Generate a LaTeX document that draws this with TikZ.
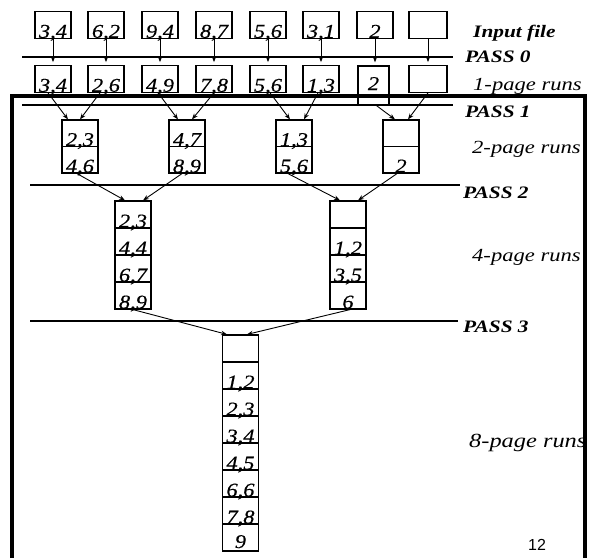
\documentclass[tikz,border=0pt]{standalone}
\usepackage{fontspec}
\setmainfont{Liberation Serif}
\newfontfamily\numfam{Liberation Serif}[FakeStretch=1.15,FakeBold=0.5]
\newfontfamily\labfam{Liberation Serif}[FakeStretch=1.22]
\newfontfamily\sansfam{Liberation Sans}
\usetikzlibrary{arrows.meta,calc}
\tikzset{
  cellA/.style={draw, line width=1.2pt, minimum width=36pt, inner sep=0pt,
    text height=26pt, text depth=0.5pt, font=\numfam\itshape\fontsize{19.5}{19.5}\selectfont},
  cellB/.style={cellA, text height=26.5pt},
  arr/.style={-{Stealth[length=6pt,width=4.5pt]}, line width=0.9pt},
  passline/.style={line width=2.2pt},
  frame/.style={line width=3.2pt},
  passlab/.style={anchor=base west, inner sep=0pt, font=\labfam\bfseries\itshape\fontsize{17.5}{17.5}\selectfont},
  runlab/.style={anchor=base west, inner sep=0pt, font=\labfam\itshape\fontsize{18.5}{18.5}\selectfont},
}
\begin{document}
\begin{tikzpicture}[x=1pt,y=-1pt]
\useasboundingbox (0,0) rectangle (595,558);
% input file row
\node[cellA] (a1) at (53,25) {3,4};
\node[cellA] (a2) at (106,25) {6,2};
\node[cellA] (a3) at (160,25) {9,4};
\node[cellA] (a4) at (214,25) {8,7};
\node[cellA] (a5) at (268,25) {5,6};
\node[cellA] (a6) at (321,25) {3,1};
\node[cellA] (a7) at (375,25) {2};
\node[cellA, minimum width=38pt] (a8) at (428,25) {};
% 1-page runs
\node[cellA] (b1) at (53,79) {3,4};
\node[cellA] (b2) at (106,79) {2,6};
\node[cellA] (b3) at (160,79) {4,9};
\node[cellA] (b4) at (214,79) {7,8};
\node[cellA] (b5) at (268,79) {5,6};
\node[cellA] (b6) at (321,79) {1,3};
\node[cellA, minimum width=31pt, text height=24pt, text depth=15pt] (b7) at (373.5,85.5) {2};
\node[cellA, minimum width=38pt] (b8) at (428,79) {};
% 2-page runs
\node[cellA] (c1a) at (80,133.25) {2,3};
\node[cellA] (c1b) at (80,159.75) {4,6};
\node[cellA] (c2a) at (187,133.25) {4,7};
\node[cellA] (c2b) at (187,159.75) {8,9};
\node[cellA] (c3a) at (294,133.25) {1,3};
\node[cellA] (c3b) at (294,159.75) {5,6};
\node[cellA] (c4a) at (401,133.25) {};
\node[cellA] (c4b) at (401,159.75) {2};
% 4-page runs
\node[cellB] (d1a) at (133,214.5) {2,3};
\node[cellB] (d1b) at (133,241.5) {4,4};
\node[cellB] (d1c) at (133,268.5) {6,7};
\node[cellB] (d1d) at (133,295.5) {8,9};
\node[cellB] (d2a) at (348,214.5) {};
\node[cellB] (d2b) at (348,241.5) {1,2};
\node[cellB] (d2c) at (348,268.5) {3,5};
\node[cellB] (d2d) at (348,295.5) {6};
% 8-page runs
\node[cellB] (e1) at (240.5,348.5) {};
\node[cellB] (e2) at (240.5,375.5) {1,2};
\node[cellB] (e3) at (240.5,402.5) {2,3};
\node[cellB] (e4) at (240.5,429.5) {3,4};
\node[cellB] (e5) at (240.5,456.5) {4,5};
\node[cellB] (e6) at (240.5,483.5) {6,6};
\node[cellB] (e7) at (240.5,510.5) {7,8};
\node[cellB, text depth=3pt, text height=24pt] (e8) at (240.5,537.5) {9};
% pass lines
\coordinate (p0a) at (22,57);  \coordinate (p0b) at (453,57);
\coordinate (p1a) at (22,105); \coordinate (p1b) at (453,105);
\coordinate (p2a) at (30,185); \coordinate (p2b) at (460,185);
\coordinate (p3a) at (30,321); \coordinate (p3b) at (458,321);
\draw[passline] (p0a) -- (p0b);
\draw[passline] (p1a) -- (p1b);
\draw[passline] (p2a) -- (p2b);
\draw[passline] (p3a) -- (p3b);
% pass 0 arrows
\foreach \i in {1,...,8} {
  \draw[arr, shorten >=3pt] (a\i.south) -- (a\i.south |- b\i.north);
}
% pass 1 arrows
\draw[arr] ([xshift=-5pt]b1.south) -- ([xshift=-12pt]c1a.north);
\draw[arr] ([xshift=-6pt]b2.south) -- (c1a.north);
\draw[arr] ([xshift=-2pt]b3.south) -- ([xshift=-9pt]c2a.north);
\draw[arr] (b4.south) -- ([xshift=5pt]c2a.north);
\draw[arr] ([xshift=2pt]b5.south) -- ([xshift=-4pt]c3a.north);
\draw[arr] ([xshift=-3pt]b6.south) -- ([xshift=10pt]c3a.north);
\draw[arr] ([xshift=3pt]b7.south) -- ([xshift=-6pt]c4a.north);
\draw[arr] (b8.south) -- ([xshift=7pt]c4a.north);
% pass 2 arrows
\draw[arr] ([xshift=-3pt]c1b.south) -- ([xshift=-8pt]d1a.north);
\draw[arr] ([xshift=-5pt]c2b.south) -- ([xshift=10pt]d1a.north);
\draw[arr] ([xshift=-6pt]c3b.south) -- ([xshift=-8pt]d2a.north);
\draw[arr] ([xshift=-4pt]c4b.south) -- ([xshift=10pt]d2a.north);
% pass 3 arrows
\draw[arr] (d1d.south) -- ([xshift=-13.5pt]e1.north);
\draw[arr] ([xshift=2pt]d2d.south) -- ([xshift=6.5pt]e1.north);
% labels
\node[passlab] (tin) at (473,37) {Input file};
\node[passlab] (tp0) at (465,62) {PASS 0};
\node[runlab] (t1) at (473,90) {1-page runs};
\node[passlab] (tp1) at (465,117) {PASS 1};
\node[runlab] (t2) at (472,153) {2-page runs};
\node[passlab] (tp2) at (463,198) {PASS 2};
\node[runlab] (t4) at (472,261) {4-page runs};
\node[passlab] (tp3) at (463,332) {PASS 3};
\node[runlab, font=\labfam\itshape\fontsize{20}{20}\selectfont] (t8) at (469,447) {8-page runs};
\node[font=\sansfam\fontsize{16}{16}\selectfont, inner sep=0pt] (pg) at (537,545) {12};
% frame
\draw[frame] (12,558) -- (12,96) -- (585,96) -- (585,558);
\end{tikzpicture}
\end{document}
